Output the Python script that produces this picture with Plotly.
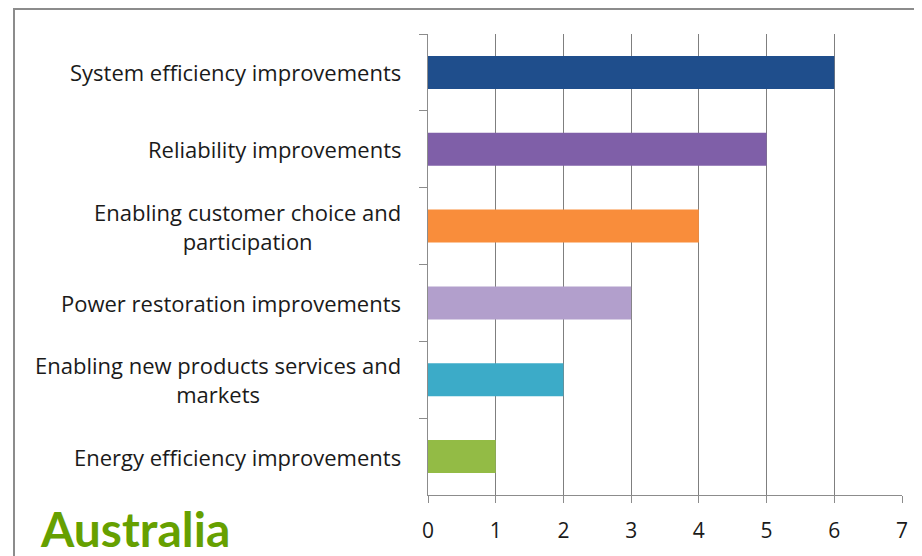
import plotly.graph_objects as go

categories = [
    "System efficiency improvements",
    "Reliability improvements",
    "Enabling customer choice and<br>participation",
    "Power restoration improvements",
    "Enabling new products services and<br>markets",
    "Energy efficiency improvements",
]
values = [6, 5, 4, 3, 2, 1]
bar_colors = ["#1F4E8C", "#7F5FA8", "#F98D3B", "#B29FCC", "#3CABC8", "#93BB45"]
x_ticks = [0, 1, 2, 3, 4, 5, 6, 7]
title_text = "Australia"

fig = go.Figure()
fig.add_trace(go.Bar(
    y=categories, x=values, orientation="h",
    marker=dict(color=bar_colors, line=dict(width=0)),
    width=0.43, showlegend=False,
))

# page body adds an 8px offset; figure coordinates = reference pixels - 8
OFF = 8
W, H = 922 - OFF, 556 - OFF
L, T = 428 - OFF, 34 - OFF
R = W - (902 - OFF)
B = H - (497 - OFF)
pw, ph = W - L - R, H - T - B

def px_x(x):
    return (x - OFF - L) / pw

def px_y(y):
    return (H - B - (y - OFF)) / ph

label_font = dict(family="Open Sans", size=22, color="#1a1a1a")
for c in categories:
    fig.add_annotation(
        x=px_x(403), xref="paper", y=c, yref="y",
        text=c, showarrow=False, xanchor="right", yanchor="middle", align="center",
        font=label_font,
    )

fig.add_annotation(
    x=px_x(38), xref="paper", y=px_y(531), yref="paper",
    text="<b>" + title_text + "</b>", showarrow=False,
    xanchor="left", yanchor="middle",
    font=dict(family="Lato", size=48, color="#66A000"),
)

fig.add_shape(
    type="rect", xref="paper", yref="paper",
    x0=px_x(14), x1=1.5, y0=-1, y1=px_y(9),
    line=dict(color="#8c8c8c", width=2), fillcolor="rgba(0,0,0,0)", layer="below",
)

fig.update_layout(
    width=W, height=H,
    margin=dict(l=L, r=R, t=T, b=B),
    paper_bgcolor="white", plot_bgcolor="white",
    xaxis=dict(
        range=[0, 7], tickvals=x_ticks, ticktext=[str(v) for v in x_ticks],
        showgrid=True, gridcolor="#7f7f7f", gridwidth=1,
        showline=True, linecolor="#8c8c8c", linewidth=1,
        ticks="outside", ticklen=7, tickcolor="#8c8c8c",
        tickfont=dict(family="Open Sans", size=21, color="#1a1a1a"),
        ticklabelstandoff=10, zeroline=False, fixedrange=True,
    ),
    yaxis=dict(
        autorange="reversed", showticklabels=False,
        showline=True, linecolor="#8c8c8c", linewidth=1,
        ticks="outside", tickson="boundaries", ticklen=8, tickcolor="#8c8c8c",
        showgrid=False, fixedrange=True,
    ),
)

fig.write_html("out.html")
